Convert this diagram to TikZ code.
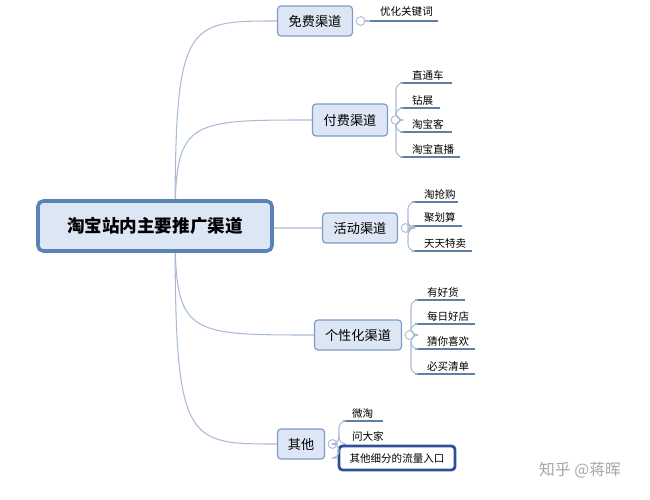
\documentclass[tikz,border=0pt]{standalone}
\usepackage{fontspec}
\newfontfamily\cjk{Noto Sans CJK SC}
\usetikzlibrary{backgrounds}
\definecolor{boxfill}{HTML}{DCE6F4}
\definecolor{boxline}{HTML}{7F9DC4}
\definecolor{rootline}{HTML}{5A82B6}
\definecolor{wire}{HTML}{A9BCD3}
\definecolor{leafline}{HTML}{5F7FA6}
\definecolor{pickline}{HTML}{2F4F9A}
\begin{document}
\begin{tikzpicture}[x=0.02cm,y=-0.02cm,font=\cjk,
    branch/.style={draw=boxline,fill=boxfill,rounded corners=2pt,line width=0.7pt,font=\cjk\fontsize{7.5}{9}\selectfont,inner sep=0pt},
    conn/.style={draw=wire,line width=0.6pt},
    bracket/.style={draw=wire,line width=0.6pt,rounded corners=4pt},
    knob/.style={circle,draw=wire,fill=white,line width=0.5pt,inner sep=0pt,minimum size=5pt}]
  \useasboundingbox (0,0) rectangle (650,500);
  % main topic
  \node (root) [draw=rootline,fill=boxfill,rounded corners=3pt,line width=2pt,minimum width=234*0.02cm,minimum height=50*0.02cm,font=\cjk\bfseries\fontsize{10}{12}\selectfont] at (155,226) {淘宝站内主要推广渠道};
  % branches
  \node (free) [branch,minimum width=75*0.02cm,minimum height=30*0.02cm] at (315,21) {免费渠道};
  \node (paid) [branch,minimum width=75*0.02cm,minimum height=32*0.02cm] at (350,120) {付费渠道};
  \node (event) [branch,minimum width=75*0.02cm,minimum height=30*0.02cm] at (360,228) {活动渠道};
  \node (pers) [branch,minimum width=87*0.02cm,minimum height=30*0.02cm] at (358,335) {个性化渠道};
  \node (other) [branch,minimum width=47*0.02cm,minimum height=30*0.02cm] at (301,444) {其他};
  \begin{scope}[on background layer]
    \foreach \b/\y in {free/21,paid/120,event/228,pers/335,other/444}
      \draw [conn] (175,226) .. controls (175,\y) and (185,\y) .. (\b.west);
  \end{scope}
  % knobs
  \node (kfree) [knob] at ([xshift=3*0.02cm+2.5pt]free.east) {};
  \node (kpaid) [knob] at ([xshift=3*0.02cm+2.5pt]paid.east) {};
  \node (kevent) [knob] at ([xshift=3*0.02cm+2.5pt]event.east) {};
  \node (kpers) [knob] at ([xshift=3*0.02cm+2.5pt]pers.east) {};
  \node (kother) [knob] at ([xshift=3*0.02cm+2.5pt]other.east) {};
  % leaves
  \tikzset{leaf/.style={font=\cjk\fontsize{6}{7}\selectfont,inner sep=1pt,anchor=south west}}
  \coordinate (lf) at (370,21);
  \draw [leafline,line width=1pt] (lf) -- (438,21);
  \draw [conn] (kfree) -- (lf);
  \node (tf) [leaf] at (378,19) {优化关键词};
  \foreach \t/\y/\w [count=\i] in {直通车/83/52,钻展/108/40,淘宝客/132/52,淘宝直播/157/60}{
    \coordinate (lp\i) at (400,\y);
    \draw [leafline,line width=0.8pt] (lp\i) -- ++(\w,0);
    \draw [bracket] (kpaid.east) -| (396,\y) -- (lp\i);
    \node (tp\i) [leaf] at (410,\y-1) {\t};
  }
  \foreach \t/\y/\w [count=\i] in {淘抢购/202/46,聚划算/226/50,天天特卖/251/60}{
    \coordinate (le\i) at (412,\y);
    \draw [leafline,line width=0.8pt] (le\i) -- ++(\w,0);
    \draw [bracket] (kevent.east) -| (408,\y) -- (le\i);
    \node (te\i) [leaf] at (422,\y-1) {\t};
  }
  \foreach \t/\y/\w [count=\i] in {有好货/300/50,每日好店/324/60,猜你喜欢/349/60,必买清单/374/60}{
    \coordinate (lq\i) at (415,\y);
    \draw [leafline,line width=0.8pt] (lq\i) -- ++(\w,0);
    \draw [bracket] (kpers.east) -| (411,\y) -- (lq\i);
    \node (tq\i) [leaf] at (425,\y-1) {\t};
  }
  \foreach \t/\y/\w [count=\i] in {微淘/421/40,问大家/444/0}{
    \coordinate (lo\i) at (343,\y);
    \draw [leafline,line width=0.8pt] (lo\i) -- ++(\w,0);
    \draw [bracket] (kother.east) -| (339,\y) -- (lo\i);
    \node (to\i) [leaf] at (350,\y-1) {\t};
  }
  \node (pick) [draw=pickline,fill=white,rounded corners=2pt,line width=1.6pt,minimum width=116*0.02cm,minimum height=24*0.02cm,font=\cjk\fontsize{6}{7}\selectfont,inner sep=0pt] at (397,458) {其他细分的流量入口};
  \draw [bracket] (kother.east) -| (339,458) -- (pick.west);
  % watermark
  \node (mark) [text=gray!70,font=\cjk\fontsize{9}{10}\selectfont] at (580,470) {知乎 @蒋晖};
\end{tikzpicture}
\end{document}
